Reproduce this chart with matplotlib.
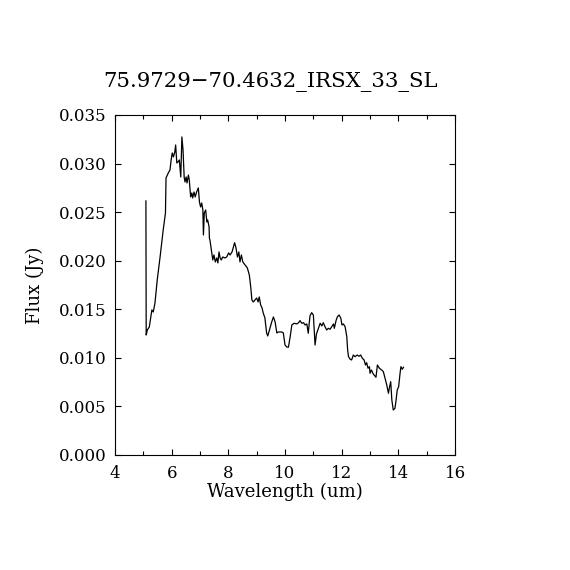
import matplotlib
matplotlib.use("Agg")
import matplotlib.pyplot as plt
from matplotlib.ticker import MultipleLocator, FormatStrFormatter

# spectrum
wavelength = [5.09, 5.10, 5.14, 5.21, 5.30, 5.35, 5.41, 5.49, 5.59, 5.70,
              5.78, 5.80, 5.88, 5.94, 5.98, 6.02, 6.06, 6.11, 6.14, 6.18,
              6.22, 6.27, 6.32, 6.36, 6.40, 6.44, 6.47, 6.51, 6.54, 6.59,
              6.62, 6.67, 6.71, 6.74, 6.79, 6.83, 6.88, 6.94, 6.98, 7.02,
              7.06, 7.10, 7.12, 7.15, 7.20, 7.24, 7.27, 7.32, 7.33, 7.35,
              7.41, 7.45, 7.49, 7.54, 7.59, 7.63, 7.67, 7.71, 7.75, 7.80,
              7.88, 7.94, 8.01, 8.06, 8.13, 8.18, 8.22, 8.27, 8.32, 8.37,
              8.41, 8.46, 8.51, 8.59, 8.67, 8.74, 8.79, 8.83, 8.88, 8.94,
              9.00, 9.05, 9.09, 9.14, 9.19, 9.23, 9.29, 9.35, 9.39, 9.45,
              9.53, 9.59, 9.65, 9.71, 9.76, 9.88, 9.94, 10.00, 10.06, 10.12,
              10.18, 10.24, 10.32, 10.41, 10.47, 10.53, 10.59, 10.65, 10.71, 10.77,
              10.82, 10.88, 10.94, 11.00, 11.06, 11.11, 11.18, 11.24, 11.30, 11.35,
              11.41, 11.47, 11.53, 11.59, 11.65, 11.71, 11.74, 11.80, 11.85, 11.91,
              11.97, 12.01, 12.06, 12.12, 12.18, 12.21, 12.24, 12.30, 12.35, 12.41,
              12.47, 12.55, 12.61, 12.67, 12.73, 12.79, 12.84, 12.88, 12.93, 12.98,
              13.00, 13.05, 13.10, 13.14, 13.21, 13.26, 13.33, 13.41, 13.47, 13.53,
              13.59, 13.65, 13.68, 13.73, 13.77, 13.82, 13.88, 13.92, 13.96, 14.01,
              14.06, 14.09, 14.14, 14.18]
flux = [0.02615, 0.01235, 0.01287, 0.01318, 0.01493, 0.01472, 0.01565, 0.01802, 0.02038, 0.02316,
        0.02491, 0.02852, 0.02903, 0.02934, 0.03037, 0.03109, 0.03068, 0.03119, 0.03191, 0.03006,
        0.03016, 0.03037, 0.02862, 0.03274, 0.03140, 0.02862, 0.02810, 0.02862, 0.02800, 0.02882,
        0.02831, 0.02656, 0.02697, 0.02646, 0.02707, 0.02656, 0.02707, 0.02749, 0.02604, 0.02553,
        0.02594, 0.02522, 0.02265, 0.02491, 0.02522, 0.02399, 0.02419, 0.02347, 0.02234, 0.02213,
        0.02090, 0.02007, 0.02059, 0.01987, 0.02028, 0.01977, 0.02090, 0.02028, 0.02007, 0.02038,
        0.02028, 0.02038, 0.02080, 0.02059, 0.02090, 0.02141, 0.02185, 0.02131, 0.02038, 0.02090,
        0.01987, 0.02059, 0.01987, 0.01956, 0.01925, 0.01853, 0.01729, 0.01596, 0.01575, 0.01596,
        0.01616, 0.01575, 0.01627, 0.01544, 0.01513, 0.01462, 0.01410, 0.01256, 0.01225, 0.01287,
        0.01369, 0.01421, 0.01369, 0.01256, 0.01266, 0.01266, 0.01256, 0.01132, 0.01112, 0.01109,
        0.01215, 0.01338, 0.01356, 0.01349, 0.01359, 0.01383, 0.01356, 0.01362, 0.01338, 0.01349,
        0.01253, 0.01431, 0.01465, 0.01441, 0.01132, 0.01246, 0.01304, 0.01356, 0.01328, 0.01362,
        0.01321, 0.01287, 0.01304, 0.01294, 0.01321, 0.01349, 0.01304, 0.01383, 0.01424, 0.01441,
        0.01407, 0.01338, 0.01349, 0.01321, 0.01218, 0.01081, 0.01012, 0.00985, 0.00978, 0.01029,
        0.01012, 0.01029, 0.01016, 0.01029, 0.00995, 0.00978, 0.00926, 0.00950, 0.00893, 0.00909,
        0.00841, 0.00875, 0.00841, 0.00824, 0.00800, 0.00926, 0.00893, 0.00875, 0.00858, 0.00790,
        0.00721, 0.00635, 0.00687, 0.00755, 0.00566, 0.00463, 0.00481, 0.00566, 0.00669, 0.00703,
        0.00841, 0.00909, 0.00882, 0.00903]

title = "75.9729\u221270.4632_IRSX_33_SL"

plt.rcParams["font.family"] = ["DejaVu Serif"]

fig = plt.figure(figsize=(5.7, 5.7), dpi=100)
ax = fig.add_axes([0.2018, 0.2018, 0.5965, 0.5965])
ax.plot(wavelength, flux, color="black", linewidth=0.9)

ax.set_xlim(4, 16)
ax.set_ylim(0, 0.035)
ax.xaxis.set_major_locator(MultipleLocator(2))
ax.xaxis.set_minor_locator(MultipleLocator(1))
ax.yaxis.set_major_locator(MultipleLocator(0.005))
ax.yaxis.set_major_formatter(FormatStrFormatter("%.3f"))
ax.tick_params(which="both", direction="in", top=True, right=True,
               labelsize=12, width=0.8)
ax.tick_params(which="major", length=4.5)
ax.tick_params(axis="x", which="major", pad=7)
ax.tick_params(axis="y", which="major", pad=6)
ax.tick_params(which="minor", length=3)
for s in ax.spines.values():
    s.set_linewidth(0.8)

ax.set_xlabel("Wavelength (um)", fontsize=13, va="center")
ax.set_ylabel("Flux (Jy)", fontsize=13, va="center")
ax.xaxis.set_label_coords(0.5, -0.109)
ax.yaxis.set_label_coords(-0.235, 0.5)
fig.text(0.474, 0.856, title, fontsize=15.3, ha="center", va="center")

fig.savefig("out.png", dpi=100)
